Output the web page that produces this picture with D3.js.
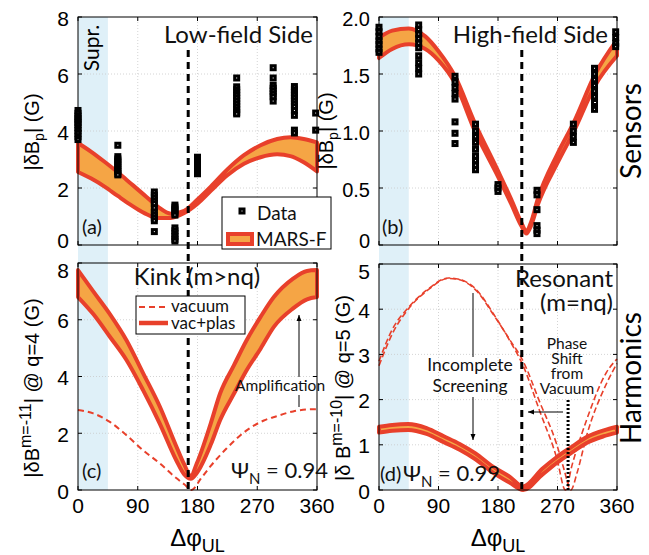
<!DOCTYPE html>
<html><head><meta charset="utf-8">
<script src="https://cdn.jsdelivr.net/npm/d3@7"></script>
<style>body{margin:0;background:#fff;} svg{display:block;}</style>
</head><body><svg id="chart" width="649" height="555"></svg>
<script>
// ---------- data ----------
const xTicks = [0, 90, 180, 270, 360];
const yTicksA = [0, 2, 4, 6, 8];
const yTicksB = [0, 0.5, 1.0, 1.5, 2.0];
const yTicksC = [0, 2, 4, 6, 8];
const yTicksD = [0, 1, 2, 3, 4, 5];
const suprRange = [0, 45];

// Panel (a) low-field side sensors
const dataX = [0, 60, 115, 146, 180, 239, 294, 326, 358];
const dataAy = [
  [4.72, 4.62, 4.52, 4.45, 4.38, 4.3, 4.22, 4.12, 4.02, 3.92, 3.8, 3.7],
  [3.5, 3.1, 3.02, 2.95, 2.88, 2.8, 2.72, 2.65, 2.58, 2.5, 2.46],
  [1.86, 1.75, 1.65, 1.55, 1.45, 1.3, 1.15, 1.05, 0.95, 0.85, 0.47],
  [1.4, 1.33, 1.26, 1.19, 1.12, 1.05, 0.6, 0.5, 0.4, 0.3, 0.2, 0.14],
  [3.08, 3.0, 2.92, 2.85, 2.78, 2.7, 2.62, 2.55, 2.5],
  [5.86, 5.55, 5.45, 5.35, 5.25, 5.15, 5.05, 4.95, 4.85, 4.75, 4.65, 4.6],
  [6.22, 5.86, 5.6, 5.5, 5.4, 5.3, 5.2, 5.05],
  [5.56, 5.45, 5.35, 5.25, 5.15, 5.05, 4.95, 4.85, 4.72, 4.55, 4.03, 3.93],
  [4.63, 4.03]
];
const bandAx = [0, 20, 40, 60, 80, 100, 120, 140, 160, 180, 200, 225, 250, 275, 300, 320, 340, 360];
const bandAhi = [3.58, 3.27, 2.92, 2.55, 2.15, 1.75, 1.35, 1.1, 1.2, 1.6, 2.05, 2.65, 3.15, 3.5, 3.72, 3.78, 3.72, 3.6];
const bandAlo = [2.56, 2.33, 2.05, 1.72, 1.4, 1.12, 0.95, 0.95, 1.12, 1.45, 1.9, 2.45, 2.85, 3.08, 3.18, 3.12, 2.9, 2.58];

// Panel (b) high-field side sensors
const dataBy = [
  [1.91, 1.87, 1.83, 1.79, 1.76, 1.72, 1.69],
  [1.93, 1.89, 1.85, 1.81, 1.77, 1.73, 1.66, 1.6, 1.55, 1.5],
  [1.48, 1.43, 1.38, 1.33, 1.28, 1.08, 0.98, 0.89],
  [1.06, 1.0, 0.95, 0.9, 0.84, 0.78, 0.74, 0.7, 0.66],
  [0.53, 0.5, 0.47],
  [0.48, 0.44, 0.31, 0.17, 0.13, 0.1],
  [1.06, 1.0, 0.95, 0.9],
  [1.55, 1.5, 1.45, 1.4, 1.35, 1.3, 1.25, 1.19],
  [1.87, 1.82, 1.77, 1.74]
];
const bandBx = [0, 20, 45, 70, 90, 115, 145, 180, 200, 215, 223, 230, 240, 270, 295, 327, 360];
const bandBhi = [1.82, 1.88, 1.9, 1.83, 1.7, 1.48, 1.07, 0.65, 0.4, 0.2, 0.12, 0.2, 0.4, 0.8, 1.08, 1.5, 1.8];
const bandBlo = [1.64, 1.72, 1.76, 1.72, 1.62, 1.42, 1.0, 0.6, 0.36, 0.17, 0.1, 0.17, 0.35, 0.72, 1.0, 1.4, 1.66];

// Panel (c) kink harmonic m=-11 at q=4
const bandCx = [0, 23, 48, 73, 98, 123, 148, 160, 170, 179, 200, 214, 235, 254, 275, 295, 324, 345, 360];
const bandChi = [7.75, 7.0, 6.2, 5.28, 4.12, 2.95, 1.54, 0.9, 0.5, 0.94, 2.35, 3.4, 4.4, 5.28, 6.1, 6.8, 7.45, 7.72, 7.75];
const bandClo = [6.8, 6.2, 5.4, 4.58, 3.52, 2.35, 1.05, 0.55, 0.4, 0.6, 1.6, 2.46, 3.4, 4.22, 4.98, 5.75, 6.4, 6.72, 6.8];
const vacCx = [0, 23, 48, 73, 98, 123, 148, 160, 171, 185, 199, 224, 254, 280, 299, 324, 345, 360];
const vacCy = [2.82, 2.7, 2.4, 1.93, 1.4, 0.94, 0.42, 0.2, 0.0, 0.4, 0.82, 1.47, 2.1, 2.45, 2.6, 2.77, 2.84, 2.85];

// Panel (d) resonant harmonic m=-10 at q=5
const vacD1x = [0, 20, 44, 72, 105, 122, 148, 173, 198, 218, 243, 269, 282, 292, 314, 344, 360];
const vacD1y = [2.85, 3.55, 4.03, 4.42, 4.69, 4.66, 4.42, 3.9, 3.3, 2.75, 1.75, 0.7, 0.0, 0.55, 1.55, 2.6, 2.9];
const vacD2x = [0, 20, 44, 72, 105, 122, 148, 173, 198, 218, 243, 269, 280, 290, 300, 314, 344, 360];
const vacD2y = [2.75, 3.45, 4.0, 4.4, 4.68, 4.65, 4.4, 3.88, 3.32, 2.85, 1.95, 1.0, 0.45, 0.0, 0.4, 1.2, 2.35, 2.8];
const bandDx = [0, 20, 44, 72, 98, 122, 146, 173, 198, 218, 247, 269, 291, 314, 340, 360];
const bandDhi = [1.40, 1.44, 1.46, 1.37, 1.19, 1.02, 0.81, 0.51, 0.29, 0.08, 0.47, 0.73, 0.95, 1.17, 1.32, 1.40];
const bandDlo = [1.27, 1.31, 1.33, 1.24, 1.06, 0.89, 0.68, 0.38, 0.16, 0.0, 0.34, 0.6, 0.82, 1.04, 1.19, 1.27];

const phaseLow = 166;    // dashed line, low-field column
const phaseHigh = 216;   // dashed line, high-field column
const phaseVac = 286;    // dotted line (vacuum minimum)

// ---------- setup ----------
const RED = "#e8402b", ORANGE = "#f5a545", BLUE = "#dff0f8";
const SANS = "Lato, 'Open Sans', sans-serif";
const HELV = "'Liberation Sans', Arial, sans-serif";
const svg = d3.select("#chart");

const xL = d3.scaleLinear([0, 360], [78, 317]);
const xR = d3.scaleLinear([0, 360], [379, 617]);
const yA = d3.scaleLinear([0, 8], [245, 17]);
const yB = d3.scaleLinear([0, 2], [245, 17]);
const yC = d3.scaleLinear([0, 8], [490, 263]);
const yD = d3.scaleLinear([0, 5], [490, 264]);

// blue suppression band spanning both rows
[xL, xR].forEach(x => {
  svg.append("rect").attr("x", x(suprRange[0])).attr("y", yA.range()[1])
    .attr("width", x(suprRange[1]) - x(suprRange[0]))
    .attr("height", yC.range()[0] - yA.range()[1]).attr("fill", BLUE);
});

const panels = [
  {x: xL, y: yA, yt: yTicksA, fmt: d => d, xlab: false, top: false, fs: 21},
  {x: xR, y: yB, yt: yTicksB, fmt: d => d === 0 ? "0" : d.toFixed(1), xlab: false, top: false, fs: 20},
  {x: xL, y: yC, yt: yTicksC, fmt: d => d, xlab: true, top: true, fs: 21},
  {x: xR, y: yD, yt: yTicksD, fmt: d => d, xlab: true, top: true, fs: 21}
];

// grid
panels.forEach(p => {
  const g = svg.append("g").attr("stroke", "#c9c9c9").attr("stroke-width", 0.8).attr("stroke-dasharray", "1,2");
  xTicks.slice(1, -1).forEach(t => g.append("line").attr("x1", p.x(t)).attr("x2", p.x(t)).attr("y1", p.y.range()[0]).attr("y2", p.y.range()[1]));
  p.yt.slice(1, -1).forEach(t => g.append("line").attr("x1", p.x.range()[0]).attr("x2", p.x.range()[1]).attr("y1", p.y(t)).attr("y2", p.y(t)));
});

function band(x, y, xs, hi, lo, sw) {
  const pts = xs.map((v, i) => ({x: v, hi: hi[i], lo: lo[i]}));
  svg.append("path").attr("d", d3.area().x(d => x(d.x)).y0(d => y(d.lo)).y1(d => y(d.hi)).curve(d3.curveMonotoneX)(pts))
    .attr("fill", ORANGE).attr("stroke", RED).attr("stroke-width", sw).attr("stroke-linejoin", "round");
}
function curve(x, y, xs, ys, dash, sw) {
  const pts = xs.map((v, i) => [v, ys[i]]);
  svg.append("path").attr("d", d3.line().x(d => x(d[0])).y(d => y(d[1])).curve(d3.curveMonotoneX)(pts))
    .attr("fill", "none").attr("stroke", RED).attr("stroke-width", sw).attr("stroke-dasharray", dash);
}
function marker(cx, cy) {
  svg.append("rect").attr("x", cx - 2).attr("y", cy - 2).attr("width", 4).attr("height", 4)
    .attr("fill", "#fff").attr("stroke", "#000").attr("stroke-width", 3);
}
function dataPts(x, y, ys) {
  dataX.forEach((xv, i) => ys[i].forEach(v => marker(x(xv), y(v))));
}

band(xL, yA, bandAx, bandAhi, bandAlo, 4);
band(xR, yB, bandBx, bandBhi, bandBlo, 4);
band(xL, yC, bandCx, bandChi, bandClo, 4);
curve(xL, yC, vacCx, vacCy, "6,4", 2);
curve(xR, yD, vacD1x, vacD1y, "6,3", 1.6);
curve(xR, yD, vacD2x, vacD2y, "6,3", 1.6);
band(xR, yD, bandDx, bandDhi, bandDlo, 4);
dataPts(xL, yA, dataAy);
dataPts(xR, yB, dataBy);

// vertical phase lines
svg.append("line").attr("x1", xL(phaseLow)).attr("x2", xL(phaseLow)).attr("y1", 50).attr("y2", 490)
  .attr("stroke", "#000").attr("stroke-width", 3).attr("stroke-dasharray", "7,5");
svg.append("line").attr("x1", xR(phaseHigh)).attr("x2", xR(phaseHigh)).attr("y1", 50).attr("y2", 490)
  .attr("stroke", "#000").attr("stroke-width", 3).attr("stroke-dasharray", "7,5");
svg.append("line").attr("x1", xR(phaseVac)).attr("x2", xR(phaseVac)).attr("y1", 400).attr("y2", 490)
  .attr("stroke", "#000").attr("stroke-width", 3).attr("stroke-dasharray", "2,2");

// frames, ticks, labels
panels.forEach(p => {
  const [x0, x1] = p.x.range(), [y0, y1] = p.y.range();
  svg.append("rect").attr("x", x0).attr("y", y1).attr("width", x1 - x0).attr("height", y0 - y1)
    .attr("fill", "none").attr("stroke", "#000").attr("stroke-width", 1);
  const g = svg.append("g").attr("stroke", "#000").attr("stroke-width", 1);
  xTicks.forEach(t => {
    g.append("line").attr("x1", p.x(t)).attr("x2", p.x(t)).attr("y1", y0).attr("y2", y0 - 4);
    g.append("line").attr("x1", p.x(t)).attr("x2", p.x(t)).attr("y1", y1).attr("y2", y1 + 4);
  });
  p.yt.forEach(t => {
    g.append("line").attr("x1", x0).attr("x2", x0 + 4).attr("y1", p.y(t)).attr("y2", p.y(t));
    g.append("line").attr("x1", x1).attr("x2", x1 - 4).attr("y1", p.y(t)).attr("y2", p.y(t));
  });
  const n = p.yt.length;
  p.yt.forEach((t, i) => {
    let dy = 8.5;
    if (!p.top && i === 0) dy = 3;
    if (p.top && i === n - 1) dy = 15;
    svg.append("text").attr("x", x0 - 9).attr("y", p.y(t) + dy).attr("text-anchor", "end")
      .attr("font-family", HELV).attr("font-size", p.fs).text(p.fmt(t));
  });
  if (p.xlab) {
    xTicks.forEach(t => svg.append("text").attr("x", p.x(t)).attr("y", 513).attr("text-anchor", "middle")
      .attr("font-family", HELV).attr("font-size", 21).text(t));
    const tx = svg.append("text").attr("x", (x0 + x1) / 2).attr("y", 546).attr("text-anchor", "middle")
      .attr("font-family", HELV).attr("font-size", 24);
    tx.append("tspan").text("Δφ");
    tx.append("tspan").attr("dy", 6).attr("font-size", 18).text("UL");
  }
});

// y-axis titles
function ylab(x, yc) {
  return svg.append("text").attr("transform", `translate(${x},${yc}) rotate(-90)`).attr("text-anchor", "middle")
    .attr("font-family", HELV).attr("font-size", 20);
}
{
  let t = ylab(39, 132);
  t.append("tspan").text("|δB");
  t.append("tspan").attr("dy", 5).attr("font-size", 14).text("p");
  t.append("tspan").attr("dy", -5).text("| (G)");
  t = ylab(333, 131);
  t.append("tspan").text("|δB");
  t.append("tspan").attr("dy", 5).attr("font-size", 14).text("p");
  t.append("tspan").attr("dy", -5).text("| (G)");
  t = ylab(39, 388);
  t.append("tspan").text("|δB");
  t.append("tspan").attr("dy", -8).attr("font-size", 16).text("m=-11");
  t.append("tspan").attr("dy", 8).text("| @ q=4 (G)");
  t = ylab(350, 388);
  t.append("tspan").text("|δ B");
  t.append("tspan").attr("dy", -8).attr("font-size", 16).text("m=-10");
  t.append("tspan").attr("dy", 8).text("| @ q=5 (G)");
}

// text helpers
function txt(x, y, s, size, anchor, fam) {
  return svg.append("text").attr("x", x).attr("y", y).attr("font-family", fam || SANS)
    .attr("font-size", size).attr("text-anchor", anchor || "start").attr("fill", "#111").text(s);
}
function arrow(x1, y1, x2, y2) {
  svg.append("line").attr("x1", x1).attr("y1", y1).attr("x2", x2).attr("y2", y2).attr("stroke", "#000").attr("stroke-width", 1);
  const a = Math.atan2(y2 - y1, x2 - x1), L = 6, W = 2.5;
  const px = x2 - L * Math.cos(a), py = y2 - L * Math.sin(a);
  svg.append("path").attr("d", `M${x2},${y2}L${px + W * Math.sin(a)},${py - W * Math.cos(a)}L${px - W * Math.sin(a)},${py + W * Math.cos(a)}Z`).attr("fill", "#000");
}

// panel titles / labels
txt(313, 43, "Low-field Side", 24, "end");
txt(608, 43, "High-field Side", 24, "end");
txt(197, 285, "Kink (m>nq)", 24, "middle");
txt(613, 287, "Resonant", 24, "end");
txt(613, 311, "(m=nq)", 24, "end");
svg.append("text").attr("transform", "translate(99,48) rotate(-90)").attr("text-anchor", "middle")
  .attr("font-family", SANS).attr("font-size", 21).text("Supr.");
txt(82, 234, "(a)", 20);
txt(382, 234, "(b)", 20);
txt(82, 478, "(c)", 20);
txt(380, 481, "(d)", 20);
{
  const t = txt(231, 478, "Ψ", 22);
  t.append("tspan").attr("dy", 6).attr("font-size", 15).text("N");
  t.append("tspan").attr("dy", -6).text(" = 0.94");
  const u = txt(403, 481, "Ψ", 22);
  u.append("tspan").attr("dy", 6).attr("font-size", 15).text("N");
  u.append("tspan").attr("dy", -6).text(" = 0.99");
}
svg.append("text").attr("transform", "translate(641,131) rotate(-90)").attr("text-anchor", "middle")
  .attr("font-family", SANS).attr("font-size", 28).text("Sensors");
svg.append("text").attr("transform", "translate(641,378) rotate(-90)").attr("text-anchor", "middle")
  .attr("font-family", SANS).attr("font-size", 28).text("Harmonics");

// legend (a)
svg.append("rect").attr("x", 222).attr("y", 197).attr("width", 109).attr("height", 52).attr("fill", "#fff").attr("stroke", "#000");
marker(242, 211);
txt(257, 220, "Data", 19);
svg.append("rect").attr("x", 228).attr("y", 234).attr("width", 24).attr("height", 10).attr("fill", ORANGE).attr("stroke", RED).attr("stroke-width", 4);
txt(256, 246, "MARS-F", 19);

// legend (c)
svg.append("rect").attr("x", 136).attr("y", 296).attr("width", 109).attr("height", 38).attr("fill", "#fff").attr("stroke", "#000");
svg.append("line").attr("x1", 139).attr("x2", 168).attr("y1", 307).attr("y2", 307).attr("stroke", RED).attr("stroke-width", 2).attr("stroke-dasharray", "6,4");
txt(171, 312, "vacuum", 17);
svg.append("line").attr("x1", 139).attr("x2", 168).attr("y1", 323).attr("y2", 323).attr("stroke", RED).attr("stroke-width", 4.5);
txt(171, 329, "vac+plas", 17);

// annotations
svg.append("line").attr("x1", 299).attr("x2", 299).attr("y1", 407).attr("y2", 395).attr("stroke", "#000");
arrow(299, 377, 299, 315);
txt(280, 391, "Amplification", 15.5, "middle");

svg.append("line").attr("x1", 473).attr("x2", 473).attr("y1", 293).attr("y2", 357).attr("stroke", "#000");
arrow(473, 397, 473, 440);
txt(470, 371, "Incomplete", 17.5, "middle");
txt(470, 392, "Screening", 17.5, "middle");

txt(567, 349, "Phase", 15.5, "middle");
txt(567, 364, "Shift", 15.5, "middle");
txt(567, 379, "from", 15.5, "middle");
txt(567, 394, "Vacuum", 15.5, "middle");
arrow(563, 412, 528, 412);
</script></body></html>
